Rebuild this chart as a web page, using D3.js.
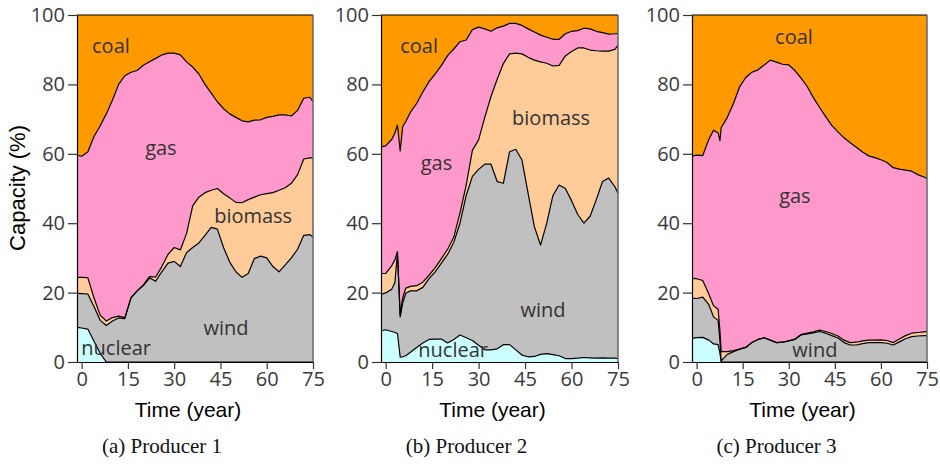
<!DOCTYPE html>
<html>
<head>
<meta charset="utf-8">
<script src="https://cdn.jsdelivr.net/npm/d3@7/dist/d3.min.js"></script>
<style>
  body { margin: 0; background: #fff; }
  svg text { font-family: "Open Sans", "DejaVu Sans", sans-serif; }
  .axis-title { font-family: "Liberation Sans", Arial, sans-serif !important; }
  .caption { font-family: "Liberation Serif", "DejaVu Serif", serif !important; }
</style>
</head>
<body>
<div id="chart"></div>
<script>
// stack order, bottom to top
const keys = ['nuclear', 'wind', 'biomass', 'gas', 'coal'];
const colors = { nuclear: '#ccffff', wind: '#c0c0c0', biomass: '#ffcc99', gas: '#ff99cc', coal: '#ff9900' };
const xTicks = [0, 15, 30, 45, 60, 75];
const yTicks = [0, 20, 40, 60, 80, 100];

// Producer 1 (share of capacity, %)
const yearsA   = [-1.5, 0, 2, 4, 6, 8, 10, 12, 14, 16, 18, 20, 22, 24, 26, 28, 30, 32, 34, 36, 38, 40, 42, 44, 46, 48, 50, 52, 54, 56, 58, 60, 62, 64, 66, 68, 70, 72, 74, 75];
const nuclearA = [10, 9.8, 9.5, 6, 2.5, 0, 0, 0, 0, 0, 0, 0, 0, 0, 0, 0, 0, 0, 0, 0, 0, 0, 0, 0, 0, 0, 0, 0, 0, 0, 0, 0, 0, 0, 0, 0, 0, 0, 0, 0];
const windA    = [9.8, 9.9, 10.1, 10, 9.5, 10.5, 11.8, 12.7, 12.5, 18.5, 20.5, 22, 24.2, 23.3, 26, 28.5, 29, 27.5, 31.5, 33, 34.3, 36.5, 38.8, 38.3, 33, 28.8, 26, 24.4, 25.5, 29.8, 30.5, 30, 27.5, 26, 28, 30, 32.5, 36.5, 36.7, 36];
const biomassA = [4.6, 4.7, 4.7, 2.5, 1.5, 1.3, 1, 0.5, 0.3, 0, 0, 0.2, 0.4, 1.2, 1.5, 2.5, 4, 4.8, 5.5, 12, 13.2, 12.3, 10.7, 11.7, 15.5, 18.5, 20, 21.5, 21.3, 17.7, 17.7, 18.5, 21.3, 23.5, 22.2, 21.5, 21.5, 22, 22.1, 22.8];
const gasA     = [35.2, 34.9, 36.2, 46.5, 54.5, 59.7, 62.7, 66.8, 69.7, 65, 63.5, 63.3, 61.9, 63, 61, 58, 56, 56.2, 49.5, 40, 35.5, 31.2, 28, 25, 24.5, 24.2, 24.5, 23.6, 22.4, 22.2, 21.6, 22, 22, 21.7, 21, 19.4, 18.5, 17.5, 17.5, 16.2];
const coalA    = [40.4, 40.7, 39.5, 35, 32, 28.5, 24.5, 20, 17.5, 16.5, 16, 14.5, 13.5, 12.5, 11.5, 11, 11, 11.5, 13.5, 15, 17, 20, 22.5, 25, 27, 28.5, 29.5, 30.5, 30.8, 30.3, 30.2, 29.5, 29.2, 28.8, 28.8, 29.1, 27.5, 24, 23.7, 25];

// Producer 2
const yearsB   = [-1.5, 0, 2, 3, 3.8, 4.7, 5.5, 6.5, 8, 10, 12, 14, 16, 18, 20, 22, 24, 26, 28, 30, 32, 34, 36, 38, 40, 42, 44, 46, 48, 50, 52, 54, 56, 58, 60, 62, 64, 66, 68, 70, 72, 74, 75];
const nuclearB = [9, 9.3, 8.8, 8.5, 8.2, 1.4, 1.5, 1.8, 2.8, 4.2, 5.5, 6.5, 6.6, 6.6, 5.5, 6.5, 7.8, 7, 6.2, 4.8, 3.5, 3.5, 3.8, 5, 5, 3.5, 2, 1.5, 1.6, 2.2, 2.4, 2.1, 1.8, 1, 1, 1.1, 1.3, 1.2, 1.1, 1.2, 1.1, 1.1, 1];
const windB    = [10.5, 10.6, 12.2, 14.5, 23.3, 11.6, 15.5, 18, 17.7, 16.3, 16, 17.5, 19.4, 21.9, 25.5, 28, 32.2, 41, 47.3, 50.7, 53.5, 53.5, 48.2, 46.5, 55.6, 57.8, 56.2, 47, 37.4, 31.5, 37.6, 45.9, 49.2, 49, 45.5, 41.4, 38.7, 40.8, 45.7, 50.8, 51.9, 49.4, 47.6];
const biomassB = [6, 5.6, 6.8, 6.5, 0.3, 0.5, 1.5, 1.5, 1.3, 1.5, 1.5, 1, 1.2, 1.3, 1.5, 1.5, 3, 3, 7.5, 8.5, 13.5, 19.5, 29.5, 34.5, 28.2, 27.7, 30.6, 39.3, 48, 52.8, 46.1, 37.3, 34.5, 38.2, 43, 48, 50.5, 47.9, 42.9, 37.6, 36.6, 39.6, 42.7];
const gasB     = [36.5, 36.8, 36.4, 36.5, 36.5, 47.3, 49.3, 48, 50.2, 52.5, 54.8, 55.8, 55.8, 55.7, 55.8, 54.2, 49.3, 41.8, 34.8, 32.5, 25.5, 18.8, 14.8, 10.8, 8.8, 8.6, 8.2, 8.2, 8.1, 7.7, 7.5, 7.7, 7.5, 6.4, 5.8, 5, 5.7, 6.1, 5.6, 5.3, 4.9, 4.5, 3.4];
const coalB    = [38, 37.7, 35.8, 34, 31.7, 39.2, 32.2, 30.7, 28, 25.5, 22.2, 19.2, 17, 14.5, 11.7, 9.8, 7.7, 7.2, 4.2, 3.5, 4, 4.7, 3.7, 3.2, 2.4, 2.4, 3, 4, 4.9, 5.8, 6.4, 7, 7, 5.4, 4.7, 4.5, 3.8, 4, 4.7, 5.1, 5.5, 5.4, 5.3];

// Producer 3
const yearsC   = [-1.5, 0, 2, 4, 5.5, 7, 7.6, 8, 10, 12, 14, 16, 18, 20, 22, 24, 26, 28, 30, 32, 34, 36, 38, 40, 42, 44, 46, 48, 50, 52, 54, 56, 58, 60, 62, 64, 66, 68, 70, 72, 74, 75];
const nuclearC = [6.8, 7, 7.1, 6.3, 5.2, 5, 2.5, 0, 0, 0, 0, 0, 0, 0, 0, 0, 0, 0, 0, 0, 0, 0, 0, 0, 0, 0, 0, 0, 0, 0, 0, 0, 0, 0, 0, 0, 0, 0, 0, 0, 0, 0];
const windC    = [11.6, 11.3, 11.6, 10.2, 7.8, 7, 3.5, 0.3, 2.2, 3, 3.7, 4.2, 5.6, 6.5, 7, 6.3, 5.6, 5.7, 6.1, 6.5, 7.8, 8.1, 8.4, 8.8, 8.3, 7.6, 6.9, 5.6, 4.9, 4.9, 5.3, 5.6, 5.6, 5.6, 5.4, 4.9, 5.8, 6.7, 7.3, 7.5, 7.6, 7.6];
const biomassC = [5.7, 5.7, 4.8, 3, 3.2, 3.2, 3, 2.7, 0.8, 0.3, 0, 0, 0, 0, 0, 0, 0, 0, 0, 0.1, 0.1, 0.2, 0.3, 0.4, 0.5, 0.6, 0.6, 0.7, 0.7, 0.8, 0.8, 0.7, 0.7, 0.8, 0.8, 0.7, 0.8, 0.9, 1, 1, 1.1, 1.2];
const gasC     = [35.2, 35.6, 36, 44.7, 50.6, 50.8, 54.8, 64.5, 67.5, 71.2, 75.6, 77.8, 77.9, 77.7, 78.6, 80.7, 80.8, 80.1, 79.5, 77.4, 73.9, 71.1, 67.5, 64.2, 61.9, 60, 58.8, 58.3, 57.6, 56.2, 54.4, 53.1, 52.6, 51.9, 51.3, 50.4, 49, 47.7, 46.7, 45.5, 44.6, 44.1];
const coalC    = [40.7, 40.4, 40.5, 35.8, 33.2, 34, 36.2, 32.5, 29.5, 25.5, 20.7, 18, 16.5, 15.8, 14.4, 13, 13.6, 14.2, 14.4, 16, 18.2, 20.6, 23.8, 26.6, 29.3, 31.8, 33.7, 35.4, 36.8, 38.1, 39.5, 40.6, 41.1, 41.7, 42.5, 44, 44.4, 44.7, 45, 46, 46.7, 47.1];

// 每个面板：数据 + 区域标签（以数据坐标放置）
const panels = [
    { caption: '(a) Producer 1', left: 77, right: 313,
      years: yearsA, series: [nuclearA, windA, biomassA, gasA, coalA],
      labels: [['coal', 9.5, 89], ['gas', 25.7, 59.6], ['biomass', 55.6, 40], ['wind', 46.8, 7.7], ['nuclear', 11.2, 1.9]] },
    { caption: '(b) Producer 2', left: 381, right: 618,
      years: yearsB, series: [nuclearB, windB, biomassB, gasB, coalB],
      labels: [['coal', 10.8, 89], ['gas', 16.4, 55.2], ['biomass', 53.4, 68.2], ['wind', 50.8, 13], ['nuclear', 21.8, 1.4]] },
    { caption: '(c) Producer 3', left: 692, right: 927,
      years: yearsC, series: [nuclearC, windC, biomassC, gasC, coalC],
      labels: [['coal', 31.7, 91.6], ['gas', 32, 45.7], ['wind', 38.5, 1.4]] },
];

const width = 940, height = 464;
const plotTop = 15, plotBottom = 362;

const svg = d3.select('#chart').append('svg')
    .attr('width', width)
    .attr('height', height);

const y = d3.scaleLinear().domain([0, 100]).range([plotBottom, plotTop]);

panels.forEach((p) => {
    const x = d3.scaleLinear().domain([-1.5, 75]).range([p.left, p.right]);
    const rows = p.years.map((t, i) => {
        const row = { year: t };
        keys.forEach((k, j) => { row[k] = p.series[j][i]; });
        return row;
    });
    const layers = d3.stack().keys(keys)(rows);

    const g = svg.append('g');

    const area = d3.area()
        .x(d => x(d.data.year))
        .y0(d => y(d[0]))
        .y1(d => y(d[1]));
    const topLine = d3.line()
        .x(d => x(d.data.year))
        .y(d => y(d[1]));

    g.selectAll('.layer')
        .data(layers)
        .enter()
        .append('path')
        .attr('class', 'layer')
        .attr('d', area)
        .attr('fill', d => colors[d.key]);

    g.selectAll('.edge')
        .data(layers)
        .enter()
        .append('path')
        .attr('class', 'edge')
        .attr('d', topLine)
        .attr('fill', 'none')
        .attr('stroke', '#000')
        .attr('stroke-width', 1.2)
        .attr('stroke-linejoin', 'round');

    // right edge of the stacked areas
    g.append('line')
        .attr('x1', p.right).attr('x2', p.right)
        .attr('y1', plotTop).attr('y2', plotBottom)
        .attr('stroke', '#666').attr('stroke-width', 1.5);

    // 区域标签
    g.selectAll('.lbl')
        .data(p.labels)
        .enter()
        .append('text')
        .attr('class', 'lbl')
        .attr('x', d => x(d[1]))
        .attr('y', d => y(d[2]))
        .attr('text-anchor', 'middle')
        .attr('font-size', 20)
        .attr('fill', '#333')
        .text(d => d[0]);

    // axes
    const xAxis = g.append('g')
        .attr('transform', `translate(0,${plotBottom})`)
        .call(d3.axisBottom(x).tickValues(xTicks).tickSize(7).tickSizeOuter(0).tickPadding(3));
    const yAxis = g.append('g')
        .attr('transform', `translate(${p.left},0)`)
        .call(d3.axisLeft(y).tickValues(yTicks).tickSize(9).tickSizeOuter(0).tickPadding(3));

    [xAxis, yAxis].forEach(a => {
        a.selectAll('path').attr('stroke', '#000').attr('stroke-width', 1.2);
        a.selectAll('line').attr('stroke', '#333').attr('stroke-width', 1.2);
        a.selectAll('text')
            .attr('font-family', '"Open Sans", sans-serif')
            .attr('font-size', 20)
            .attr('fill', '#3a3a3a');
    });

    g.append('text')
        .attr('class', 'axis-title')
        .attr('x', (p.left + p.right) / 2 - 7)
        .attr('y', 417)
        .attr('text-anchor', 'middle')
        .attr('font-size', 21)
        .attr('fill', '#000')
        .text('Time (year)');

    g.append('text')
        .attr('class', 'caption')
        .attr('x', (p.left + p.right) / 2 - 33)
        .attr('y', 453)
        .attr('text-anchor', 'middle')
        .attr('font-size', 21)
        .attr('fill', '#111')
        .text(p.caption);
});

svg.append('text')
    .attr('class', 'axis-title')
    .attr('transform', 'translate(25,188) rotate(-90)')
    .attr('text-anchor', 'middle')
    .attr('font-size', 22)
    .attr('fill', '#000')
    .text('Capacity (%)');
</script>
</body>
</html>
